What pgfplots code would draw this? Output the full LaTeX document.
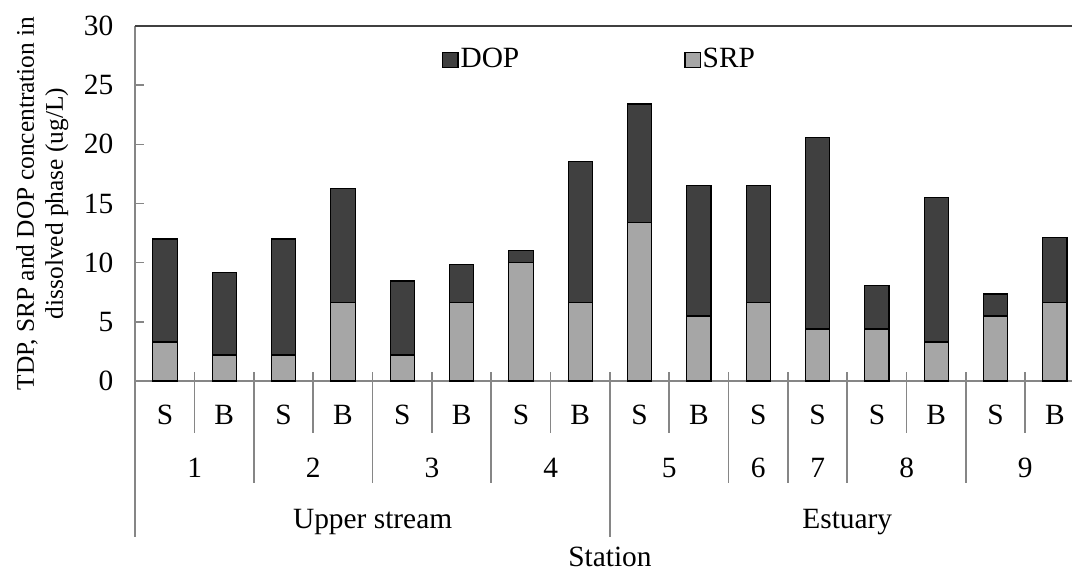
\documentclass[border=0pt]{standalone}
\usepackage{pgfplots}
\usepackage{pgfplotstable}
\pgfplotsset{compat=1.18}
\usepackage{fontspec}
\setmainfont{Liberation Serif}
\definecolor{dop}{HTML}{404040}
\definecolor{srp}{HTML}{A6A6A6}
\definecolor{axgray}{HTML}{868686}
\pgfplotstableread{
pos SRP DOP
0 3.3 8.7
1 2.2 6.95
2 2.2 9.8
3 6.6 9.65
4 2.2 6.25
5 6.6 3.25
6 10.0 1.0
7 6.6 11.95
8 13.4 10.0
9 5.5 11.0
10 6.6 9.9
11 4.4 16.2
12 4.4 3.65
13 3.3 12.2
14 5.5 1.85
15 6.6 5.5
}\datatable
\begin{document}
\begin{tikzpicture}[font=\fontsize{14.7pt}{14.7pt}\selectfont]
\begin{axis}[
  scale only axis, width=474.65pt, height=177.5pt,
  xmin=-0.5, xmax=15.5, ymin=0, ymax=30,
  ybar stacked, bar width=12.15pt,
  axis x line*=bottom, axis y line*=left,
  axis line style={axgray, line width=0.8pt, -},
  ytick={0,5,...,30},
  xtick={-0.5,0.5,...,15.5}, xticklabels={},
  tick style={axgray, line width=0.8pt},
  tick align=inside,
  major tick length=4.5pt,
  yticklabel style={/pgf/number format/assume math mode=true, xshift=-7.5pt, font=\fontsize{14.7pt}{14.7pt}\selectfont},
  clip=false,
  reverse legend,
  legend columns=2,
  legend style={draw=none, fill=none, at={(rel axis cs:0.3228,0.905)}, anchor=west, inner sep=0pt,
    font=\fontsize{14.7pt}{14.7pt}\selectfont,
    nodes={inner xsep=1pt},
    /tikz/every even column/.append style={column sep=81.5pt}},
  legend image code/.code={\draw[#1, line width=0.6pt] (0pt,-3.8pt) rectangle (7.6pt,3.8pt);},
]
\addplot[fill=srp, draw=black, line width=0.6pt] table[x=pos, y=SRP] {\datatable};
\addlegendentry{SRP}
\addplot[fill=dop, draw=black, line width=0.6pt] table[x=pos, y=DOP] {\datatable};
\addlegendentry{DOP}
% top border
\draw[black!75, line width=1pt] (rel axis cs:0,1) -- (rel axis cs:1,1);
% separators
\pgfplotsinvokeforeach{0.5,2.5,4.5,6.5,8.5,12.5,14.5}{
  \draw[axgray, line width=0.8pt] (axis cs:#1,0) -- ++(0pt,-26pt);}
\pgfplotsinvokeforeach{1.5,3.5,5.5,9.5,10.5,11.5,13.5}{
  \draw[axgray, line width=0.8pt] (axis cs:#1,0) -- ++(0pt,-51pt);}
\pgfplotsinvokeforeach{-0.5,7.5,15.5}{
  \draw[axgray, line width=0.8pt] (axis cs:#1,0) -- ++(0pt,-78pt);}
% level labels
\pgfplotsinvokeforeach{0,2,4,6,8,10,11,12,14}{
  \node[anchor=base, inner sep=0pt] at ([yshift=-22pt]axis cs:#1,0) {S};}
\pgfplotsinvokeforeach{1,3,5,7,9,13,15}{
  \node[anchor=base, inner sep=0pt] at ([yshift=-22pt]axis cs:#1,0) {B};}
\node[anchor=base, inner sep=0pt] at ([yshift=-48.5pt]axis cs:0.5,0) {1};
\node[anchor=base, inner sep=0pt] at ([yshift=-48.5pt]axis cs:2.5,0) {2};
\node[anchor=base, inner sep=0pt] at ([yshift=-48.5pt]axis cs:4.5,0) {3};
\node[anchor=base, inner sep=0pt] at ([yshift=-48.5pt]axis cs:6.5,0) {4};
\node[anchor=base, inner sep=0pt] at ([yshift=-48.5pt]axis cs:8.5,0) {5};
\node[anchor=base, inner sep=0pt] at ([yshift=-48.5pt]axis cs:10,0) {6};
\node[anchor=base, inner sep=0pt] at ([yshift=-48.5pt]axis cs:11,0) {7};
\node[anchor=base, inner sep=0pt] at ([yshift=-48.5pt]axis cs:12.5,0) {8};
\node[anchor=base, inner sep=0pt] at ([yshift=-48.5pt]axis cs:14.5,0) {9};
\node[anchor=base, inner sep=0pt] at ([yshift=-74pt]axis cs:3.5,0) {Upper stream};
\node[anchor=base, inner sep=0pt] at ([yshift=-74pt]axis cs:11.5,0) {Estuary};
\node[anchor=base, inner sep=0pt] at ([yshift=-93pt]axis cs:7.5,0) {Station};
% y label
\node[rotate=90, align=center, inner sep=0pt, font=\fontsize{12.7pt}{14.5pt}\selectfont] at ([xshift=-46.5pt]rel axis cs:0,0.5)
  {TDP, SRP and DOP concentration in\\dissolved phase (ug/L)};
\end{axis}
\pgfresetboundingbox
\path[use as bounding box] ([xshift=-67.65pt,yshift=-95.5pt]current axis.south west) rectangle ([xshift=468.35pt,yshift=190.5pt]current axis.south west);
\end{tikzpicture}
\end{document}
